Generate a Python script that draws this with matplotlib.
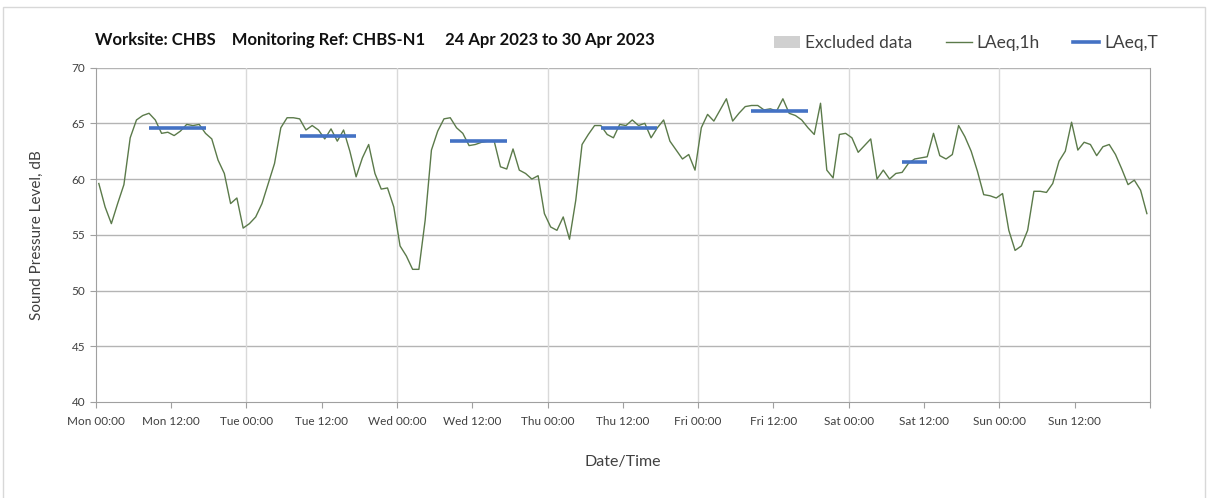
import matplotlib
matplotlib.use('Agg')
import matplotlib.pyplot as plt
from matplotlib.patches import Patch, Rectangle
from matplotlib.lines import Line2D

plt.rcParams['font.family'] = ['Lato', 'DejaVu Sans']

# hourly LAeq,1h, Mon 00:00 -> Sun 23:00
laeq_1h = [
    # Mon
    59.6, 57.5, 56.0, 57.8, 59.5, 63.7, 65.3, 65.7, 65.9, 65.3, 64.1, 64.2,
    63.9, 64.3, 64.9, 64.8, 64.9, 64.1, 63.6, 61.7, 60.5, 57.8, 58.3, 55.6,
    # Tue
    56.0, 56.6, 57.8, 59.6, 61.4, 64.6, 65.5, 65.5, 65.4, 64.4, 64.8, 64.4,
    63.6, 64.5, 63.4, 64.4, 62.5, 60.2, 61.9, 63.1, 60.5, 59.1, 59.2, 57.5,
    # Wed
    54.0, 53.1, 51.9, 51.9, 56.3, 62.6, 64.3, 65.4, 65.5, 64.6, 64.1, 63.0,
    63.1, 63.3, 63.4, 63.4, 61.1, 60.9, 62.7, 60.8, 60.5, 60.0, 60.3, 56.9,
    # Thu
    55.7, 55.4, 56.6, 54.6, 58.1, 63.1, 64.0, 64.8, 64.8, 64.0, 63.7, 64.9,
    64.8, 65.3, 64.8, 65.0, 63.7, 64.6, 65.3, 63.4, 62.6, 61.8, 62.2, 60.8,
    # Fri
    64.6, 65.8, 65.2, 66.2, 67.2, 65.2, 65.9, 66.5, 66.6, 66.6, 66.2, 66.3,
    66.1, 67.2, 65.9, 65.7, 65.3, 64.6, 64.0, 66.8, 60.8, 60.1, 64.0, 64.1,
    # Sat
    63.7, 62.4, 63.0, 63.6, 60.0, 60.8, 60.0, 60.5, 60.6, 61.4, 61.8, 61.9,
    62.0, 64.1, 62.1, 61.8, 62.2, 64.8, 63.8, 62.5, 60.7, 58.6, 58.5, 58.3,
    # Sun
    58.7, 55.4, 53.6, 54.0, 55.4, 58.9, 58.9, 58.8, 59.6, 61.6, 62.5, 65.1,
    62.6, 63.3, 63.1, 62.1, 62.9, 63.1, 62.2, 60.9, 59.5, 59.9, 59.0, 56.9,
]

# LAeq,T over the daytime period of each day
t_day = [0, 1, 2, 3, 4, 5]
t_first_hr = [8, 8, 8, 8, 8, 8]
t_last_hr = [17, 17, 17, 17, 17, 12]
laeq_t = [64.6, 63.9, 63.4, 64.6, 66.1, 61.5]

tick_labels = ['Mon 00:00', 'Mon 12:00', 'Tue 00:00', 'Tue 12:00', 'Wed 00:00',
               'Wed 12:00', 'Thu 00:00', 'Thu 12:00', 'Fri 00:00', 'Fri 12:00',
               'Sat 00:00', 'Sat 12:00', 'Sun 00:00', 'Sun 12:00', '']

line_green = '#5b7a4a'
blue = '#4472c4'
txt = '#404040'

fig = plt.figure(figsize=(12.08, 4.98), dpi=100)
ax = fig.add_axes([0.0792, 0.1928, 0.8728, 0.6715])

hours = [h + 0.5 for h in range(len(laeq_1h))]
ax.plot(hours, laeq_1h, color=line_green, lw=1.0, zorder=3)

for d, a, b, lv in zip(t_day, t_first_hr, t_last_hr, laeq_t):
    ax.plot([d * 24 + a + 0.5, d * 24 + b + 0.5], [lv, lv], color=blue,
            lw=2.6, solid_capstyle='butt', zorder=4)

ax.set_xlim(0, 168)
ax.set_ylim(40, 70)
ax.set_xticks(range(0, 169, 12))
ax.set_xticklabels(tick_labels, fontsize=8.5, color=txt)
ax.set_yticks(range(40, 71, 5))
ax.set_yticklabels([str(v) for v in range(40, 71, 5)], fontsize=8.5, color=txt)

for v in range(45, 71, 5):
    ax.axhline(v, color='#b4b4b4', lw=1.0, zorder=1)
for d in range(1, 7):
    ax.axvline(d * 24, color='#d9d9d9', lw=1.0, zorder=1)

for s in ['left', 'bottom', 'right']:
    ax.spines[s].set_color('#a0a0a0')
ax.spines['top'].set_visible(False)
ax.tick_params(axis='both', colors='#a0a0a0', length=4, labelcolor=txt)
ax.tick_params(axis='x', pad=6)

ax.set_ylabel('Sound Pressure Level, dB', fontsize=11, color=txt, labelpad=20)
ax.set_xlabel('Date/Time', fontsize=11.5, color=txt, labelpad=20)

fig.text(95 / 1208, 1 - 40 / 498, 'Worksite: CHBS    Monitoring Ref: CHBS-N1     24 Apr 2023 to 30 Apr 2023',
         fontsize=12, fontweight='bold', color='#111111', va='center', ha='left')

handles = [Patch(facecolor='#d0d0d0', edgecolor='none'),
           Line2D([], [], color=line_green, lw=1.0),
           Line2D([], [], color=blue, lw=2.6)]
fig.legend(handles, ['Excluded data', 'LAeq,1h', 'LAeq,T'], loc='center',
           bbox_to_anchor=(966 / 1208, 1 - 43 / 498), ncol=3, frameon=False,
           fontsize=12.5, labelcolor=txt, handlelength=1.5, handletextpad=0.3,
           columnspacing=1.9)

# outer frame
fig.patches.append(Rectangle((3 / 1208, -0.01), 1202 / 1208, 1.01 - 6.5 / 498,
                             transform=fig.transFigure, fill=False,
                             edgecolor='#d8d8d8', lw=1.0))

fig.savefig('out.png', dpi=100)
